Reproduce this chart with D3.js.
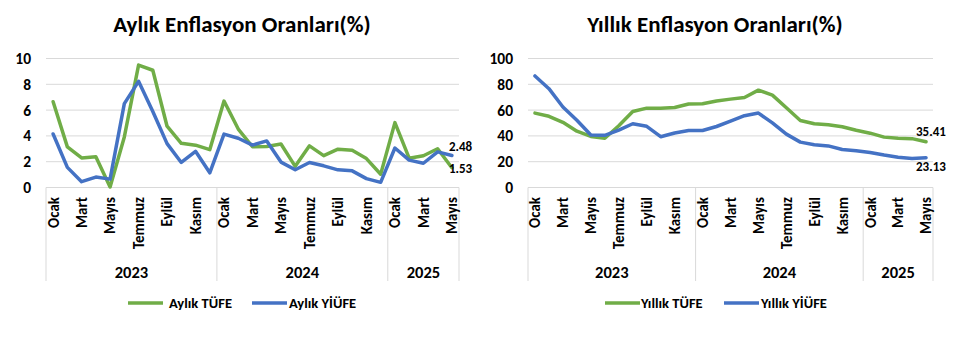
<!DOCTYPE html>
<html>
<head>
<meta charset="utf-8">
<script src="https://cdn.jsdelivr.net/npm/d3@7"></script>
<style>
  html, body { margin: 0; padding: 0; background: #fff; }
  svg { display: block; }
  text { font-family: Carlito, Calibri, Lato, "Open Sans", sans-serif; font-weight: 700; fill: #000; }
</style>
</head>
<body>
<svg id="chart" width="960" height="342"></svg>
<script>
// Months Jan 2023 – May 2025
const years = ["2023", "2024", "2025"];
const monthNames = ["Ocak", "Şubat", "Mart", "Nisan", "Mayıs", "Haziran",
                    "Temmuz", "Ağustos", "Eylül", "Ekim", "Kasım", "Aralık"];
const yearMonthCounts = [12, 12, 5];

// Monthly inflation (%)
const aylikTufe = [6.65, 3.15, 2.29, 2.39, 0.04, 3.92, 9.49, 9.09, 4.75, 3.43, 3.28, 2.93,
                   6.70, 4.53, 3.16, 3.18, 3.37, 1.64, 3.23, 2.47, 2.97, 2.88, 2.24, 1.03,
                   5.03, 2.27, 2.46, 3.00, 1.53];
const aylikYiufe = [4.15, 1.56, 0.45, 0.81, 0.65, 6.50, 8.23, 5.89, 3.40, 1.94, 2.81, 1.14,
                    4.14, 3.82, 3.29, 3.61, 1.97, 1.38, 1.94, 1.68, 1.37, 1.29, 0.69, 0.40,
                    3.06, 2.12, 1.88, 2.76, 2.48];

// Annual inflation (%)
const yillikTufe = [57.68, 55.18, 50.51, 43.68, 39.59, 38.21, 47.83, 58.94, 61.53, 61.36, 61.98, 64.77,
                    64.86, 67.07, 68.50, 69.80, 75.45, 71.60, 61.78, 51.97, 49.38, 48.58, 47.09, 44.38,
                    42.12, 39.05, 38.10, 37.86, 35.41];
const yillikYiufe = [86.46, 76.61, 62.45, 52.11, 40.76, 40.42, 44.50, 49.41, 47.44, 39.39, 42.25, 44.22,
                     44.20, 47.29, 51.47, 55.66, 57.68, 50.09, 41.37, 35.17, 33.09, 32.24, 29.47, 28.52,
                     27.20, 25.21, 23.50, 22.50, 23.13];

const aylikTicks = [0, 2, 4, 6, 8, 10];
const yillikTicks = [0, 20, 40, 60, 80, 100];

const GREEN = "#70ad47";
const BLUE = "#4472c4";
const GRID = "#d9d9d9";

// Flattened month list with year + month index
const periods = [];
yearMonthCounts.forEach((n, yi) => {
  for (let m = 0; m < n; m++) periods.push({ year: years[yi], m, key: years[yi] + "-" + m });
});

const svg = d3.select("#chart");

function drawChart(opt) {
  const g = svg.append("g");
  const x = d3.scaleBand().domain(periods.map(p => p.key)).range([opt.x0, opt.x1]).paddingInner(0).paddingOuter(0);
  const y = d3.scaleLinear().domain([0, opt.ticks[opt.ticks.length - 1]]).range([opt.y0, opt.yTop]);
  const cx = i => x(periods[i].key) + x.bandwidth() / 2;

  // Title
  g.append("text")
    .attr("x", opt.titleX).attr("y", 32)
    .attr("text-anchor", "middle")
    .style("font-size", "23px")
    .text(opt.title);

  // Horizontal gridlines
  g.selectAll("line.grid").data(opt.ticks).join("line")
    .attr("x1", opt.x0).attr("x2", opt.x1)
    .attr("y1", d => y(d)).attr("y2", d => y(d))
    .attr("stroke", GRID).attr("stroke-width", 1);

  // Y tick labels
  g.selectAll("text.ytick").data(opt.ticks).join("text")
    .attr("x", opt.yLabelX).attr("y", d => y(d))
    .attr("dy", "0.36em")
    .attr("text-anchor", "end")
    .style("font-size", "15.5px")
    .text(d => d);

  // Category axis frame: vertical separators at year boundaries
  const bounds = [0];
  let acc = 0;
  yearMonthCounts.forEach(n => { acc += n; bounds.push(acc); });
  g.selectAll("line.sep").data(bounds).join("line")
    .attr("x1", b => b < periods.length ? x(periods[b].key) : opt.x1)
    .attr("x2", b => b < periods.length ? x(periods[b].key) : opt.x1)
    .attr("y1", opt.y0).attr("y2", 281)
    .attr("stroke", GRID).attr("stroke-width", 1);

  // Month labels (every other month)
  const shown = periods.map((p, i) => ({ p, i })).filter(d => d.p.m % 2 === 0);
  g.selectAll("text.month").data(shown).join("text")
    .attr("transform", d => `translate(${cx(d.i)},197) rotate(-90)`)
    .attr("dy", "0.36em")
    .attr("text-anchor", "end")
    .style("font-size", "15px")
    .text(d => monthNames[d.p.m]);

  // Year labels centered in each group
  g.selectAll("text.year").data(years).join("text")
    .attr("x", (d, yi) => {
      const a = x(periods[bounds[yi]].key);
      const b = bounds[yi + 1] < periods.length ? x(periods[bounds[yi + 1]].key) : opt.x1;
      return (a + b) / 2;
    })
    .attr("y", 272).attr("dy", "0.36em")
    .attr("text-anchor", "middle")
    .style("font-size", "16.5px")
    .text(d => d);

  // Series lines
  const line = d3.line().x((d, i) => cx(i)).y(d => y(d));
  opt.series.forEach(s => {
    g.append("path")
      .datum(s.values)
      .attr("fill", "none")
      .attr("stroke", s.color)
      .attr("stroke-width", 3.5)
      .attr("stroke-linejoin", "round")
      .attr("stroke-linecap", "round")
      .attr("d", line);
  });

  // End-of-series value labels
  const last = periods.length - 1;
  opt.series.forEach(s => {
    const v = s.values[last];
    g.append("text")
      .attr("x", cx(last) + s.labelDx)
      .attr("y", y(v) + s.labelDy)
      .attr("dy", "0.36em")
      .style("font-size", "13px")
      .text(v.toFixed(2));
  });

  // Legend
  opt.series.forEach(s => {
    g.append("line")
      .attr("x1", s.legendX).attr("x2", s.legendX + 35)
      .attr("y1", 303).attr("y2", 303)
      .attr("stroke", s.color).attr("stroke-width", 3.5);
    g.append("text")
      .attr("x", s.legendX + s.legendGap).attr("y", 303).attr("dy", "0.36em")
      .style("font-size", "14.5px")
      .text(s.name);
  });
}

drawChart({
  title: "Aylık Enflasyon Oranları(%)",
  titleX: 242,
  x0: 46, x1: 459, y0: 187.5, yTop: 58.5,
  yLabelX: 31,
  ticks: aylikTicks,
  series: [
    { name: "Aylık TÜFE", values: aylikTufe, color: GREEN, labelDx: -3, labelDy: 1, legendX: 128, legendGap: 41 },
    { name: "Aylık YİÜFE", values: aylikYiufe, color: BLUE, labelDx: -3, labelDy: -9, legendX: 252, legendGap: 37 }
  ]
});

drawChart({
  title: "Yıllık Enflasyon Oranları(%)",
  titleX: 715,
  x0: 528, x1: 933, y0: 187.5, yTop: 58.5,
  yLabelX: 513,
  ticks: yillikTicks,
  series: [
    { name: "Yıllık TÜFE", values: yillikTufe, color: GREEN, labelDx: -10, labelDy: -11, legendX: 605, legendGap: 36 },
    { name: "Yıllık YİÜFE", values: yillikYiufe, color: BLUE, labelDx: -10, labelDy: 9, legendX: 724, legendGap: 37 }
  ]
});
</script>
</body>
</html>
